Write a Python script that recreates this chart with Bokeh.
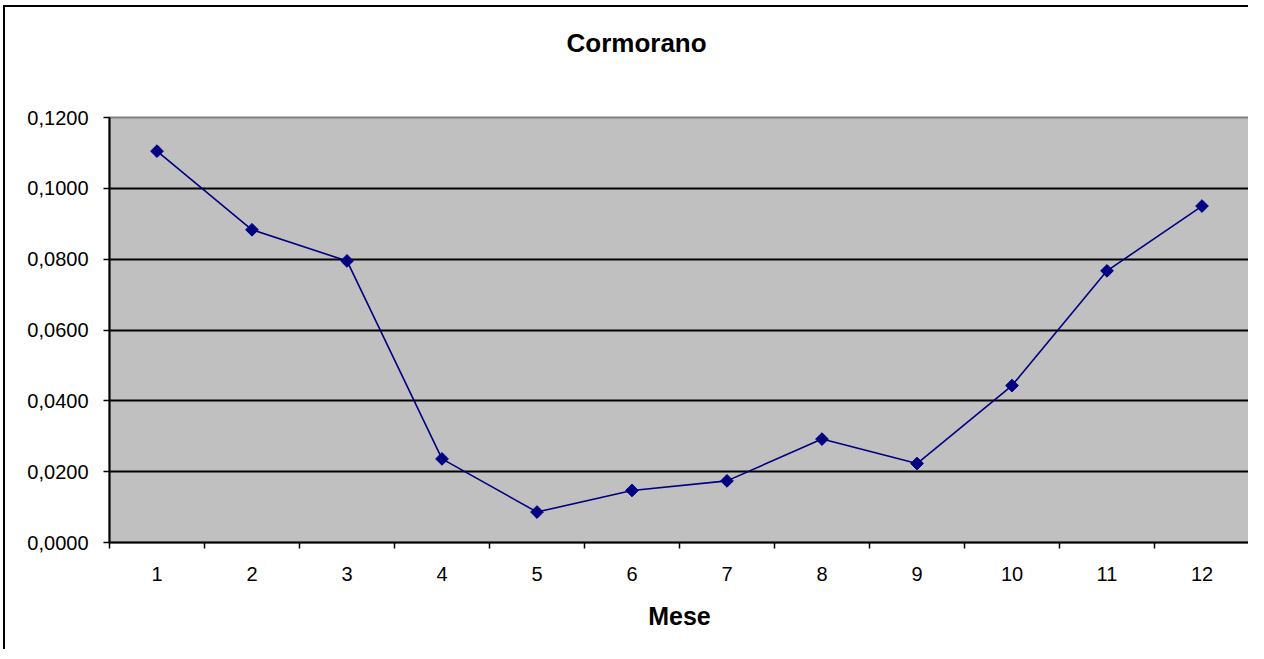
import numpy as np
from bokeh.plotting import figure
from bokeh.models import Range1d, FixedTicker, Title
from bokeh.embed import file_html
from bokeh.resources import INLINE

# ---- data ----
mesi = [1, 2, 3, 4, 5, 6, 7, 8, 9, 10, 11, 12]
valori = [0.1105, 0.0883, 0.0795, 0.0236, 0.0086, 0.0147, 0.0174, 0.0292,
          0.0223, 0.0443, 0.0767, 0.0950]
y_ticks = [0.0, 0.02, 0.04, 0.06, 0.08, 0.10, 0.12]
y_labels = ["0,0000", "0,0200", "0,0400", "0,0600", "0,0800", "0,1000", "0,1200"]
titolo = "Cormorano"
asse_x = "Mese"

FONT = "Liberation Sans"

p = figure(width=1245, height=644, output_backend="svg", toolbar_location=None,
           x_range=Range1d(0.5, 12.5), y_range=Range1d(0.0, 0.12),
           min_border_left=104, min_border_right=1, min_border_top=110,
           min_border_bottom=109)
p.styles = {"border-left": "2px solid black", "border-top": "2px solid black",
            "margin-left": "3px", "margin-top": "5px"}

p.background_fill_color = "#C0C0C0"
p.border_fill_color = "white"
p.outline_line_color = "#808080"
p.outline_line_width = 2

# title: two empty lines below it lift it away from the plot area
t = Title(text=titolo + "\n \n ", align="left", offset=457, text_font=FONT,
          text_font_size="26px", text_font_style="bold", text_color="black",
          standoff=0)
p.add_layout(t, "above")

# grid
p.xgrid.visible = False
p.ygrid.ticker = FixedTicker(ticks=y_ticks[1:-1])
p.ygrid.grid_line_color = "black"
p.ygrid.grid_line_width = 2

# x axis
xa = p.xaxis[0]
xa.ticker = FixedTicker(ticks=mesi, minor_ticks=[m - 0.5 for m in mesi] + [mesi[-1] + 0.5])
xa.major_tick_out = 0
xa.major_tick_in = 0
xa.minor_tick_out = 6
xa.minor_tick_in = 0
xa.minor_tick_line_color = "black"
xa.minor_tick_line_width = 1.5
xa.axis_line_color = "black"
xa.axis_line_width = 2
xa.major_label_text_font = FONT
xa.major_label_text_font_size = "20px"
xa.major_label_text_color = "black"
xa.major_label_standoff = 18
xa.axis_label = asse_x
xa.axis_label_text_font = FONT
xa.axis_label_text_font_size = "25px"
xa.axis_label_text_font_style = "bold"
xa.axis_label_text_color = "black"
xa.axis_label_standoff = 18

# y axis
ya = p.yaxis[0]
ya.ticker = FixedTicker(ticks=y_ticks, minor_ticks=[])
ya.major_label_overrides = {v: s for v, s in zip(y_ticks, y_labels)}
ya.major_tick_out = 6
ya.major_tick_in = 0
ya.major_tick_line_color = "black"
ya.major_tick_line_width = 1.5
ya.axis_line_color = "black"
ya.axis_line_width = 2
ya.major_label_text_font = FONT
ya.major_label_text_font_size = "20px"
ya.major_label_text_color = "black"
ya.major_label_standoff = 15

# series
p.line(mesi, valori, line_color="#000080", line_width=1.6)
p.scatter(mesi, valori, marker="square", angle=np.pi / 4, size=9,
          fill_color="#000080", line_color="#000080")

open("out.html", "w").write(file_html(p, INLINE))
